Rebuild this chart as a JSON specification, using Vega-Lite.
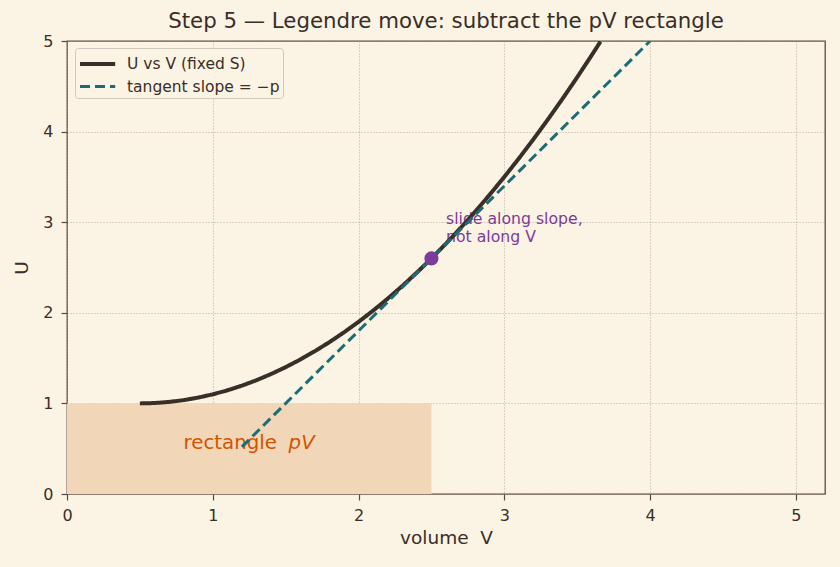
{
  "$schema": "https://vega.github.io/schema/vega-lite/v6.json",
  "width": 758,
  "height": 453,
  "autosize": {"type": "none"},
  "padding": {"left": 67, "top": 41, "right": 15, "bottom": 73},
  "background": "#fbf3e4",
  "title": {
    "text": "Step 5 — Legendre move: subtract the pV rectangle",
    "fontSize": 21.3,
    "fontWeight": "normal",
    "font": "DejaVu Sans",
    "color": "#3a2e28",
    "offset": 1
  },
  "config": {
    "font": "DejaVu Sans",
    "view": {"stroke": "#5a4a3e", "strokeWidth": 1.3, "fill": "#fbf3e4"},
    "axis": {
      "domain": false,
      "grid": true,
      "gridColor": "#a89a8a",
      "gridDash": [1, 2],
      "gridWidth": 0.8,
      "tickColor": "#5a4a3e",
      "tickSize": 6,
      "tickWidth": 1.2,
      "labelFont": "DejaVu Sans",
      "titleFont": "DejaVu Sans",
      "labelFontSize": 16,
      "labelColor": "#3a2e28",
      "labelFlush": false,
      "titleFontSize": 18.5,
      "titleFontWeight": "normal",
      "titleColor": "#3a2e28",
      "format": "d"
    },
    "legend": {"labelFont": "DejaVu Sans"}
  },
  "datasets": {
    "lines": [
      {"V": 0.5, "U": 1.0, "series": "U vs V (fixed S)"},
      {"V": 0.6, "U": 1.004, "series": "U vs V (fixed S)"},
      {"V": 0.7, "U": 1.016, "series": "U vs V (fixed S)"},
      {"V": 0.8, "U": 1.036, "series": "U vs V (fixed S)"},
      {"V": 0.9, "U": 1.064, "series": "U vs V (fixed S)"},
      {"V": 1.0, "U": 1.1, "series": "U vs V (fixed S)"},
      {"V": 1.1, "U": 1.144, "series": "U vs V (fixed S)"},
      {"V": 1.2, "U": 1.196, "series": "U vs V (fixed S)"},
      {"V": 1.3, "U": 1.256, "series": "U vs V (fixed S)"},
      {"V": 1.4, "U": 1.324, "series": "U vs V (fixed S)"},
      {"V": 1.5, "U": 1.4, "series": "U vs V (fixed S)"},
      {"V": 1.6, "U": 1.484, "series": "U vs V (fixed S)"},
      {"V": 1.7, "U": 1.576, "series": "U vs V (fixed S)"},
      {"V": 1.8, "U": 1.676, "series": "U vs V (fixed S)"},
      {"V": 1.9, "U": 1.784, "series": "U vs V (fixed S)"},
      {"V": 2.0, "U": 1.9, "series": "U vs V (fixed S)"},
      {"V": 2.1, "U": 2.024, "series": "U vs V (fixed S)"},
      {"V": 2.2, "U": 2.156, "series": "U vs V (fixed S)"},
      {"V": 2.3, "U": 2.296, "series": "U vs V (fixed S)"},
      {"V": 2.4, "U": 2.444, "series": "U vs V (fixed S)"},
      {"V": 2.5, "U": 2.6, "series": "U vs V (fixed S)"},
      {"V": 2.6, "U": 2.764, "series": "U vs V (fixed S)"},
      {"V": 2.7, "U": 2.936, "series": "U vs V (fixed S)"},
      {"V": 2.8, "U": 3.116, "series": "U vs V (fixed S)"},
      {"V": 2.9, "U": 3.304, "series": "U vs V (fixed S)"},
      {"V": 3.0, "U": 3.5, "series": "U vs V (fixed S)"},
      {"V": 3.1, "U": 3.704, "series": "U vs V (fixed S)"},
      {"V": 3.2, "U": 3.916, "series": "U vs V (fixed S)"},
      {"V": 3.3, "U": 4.136, "series": "U vs V (fixed S)"},
      {"V": 3.4, "U": 4.364, "series": "U vs V (fixed S)"},
      {"V": 3.5, "U": 4.6, "series": "U vs V (fixed S)"},
      {"V": 3.6, "U": 4.844, "series": "U vs V (fixed S)"},
      {"V": 3.66, "U": 4.994, "series": "U vs V (fixed S)"},
      {"V": 1.2, "U": 0.52, "series": "tangent slope = −p"},
      {"V": 4.0, "U": 5.0, "series": "tangent slope = −p"}
    ]
  },
  "layer": [
    {
      "data": {"values": [{"x0": 0, "x1": 2.5, "y0": 0, "y1": 1}]},
      "mark": {"type": "rect", "fill": "#f2d6b8"},
      "encoding": {
        "x": {"field": "x0", "type": "quantitative", "scale": {"domain": [0, 5.2], "nice": false}, "axis": {"values": [0, 1, 2, 3, 4, 5], "title": "volume\u00a0\u00a0V", "titlePadding": 5, "labelPadding": 7}},
        "x2": {"field": "x1"},
        "y": {"field": "y0", "type": "quantitative", "scale": {"domain": [0, 5], "nice": false}, "axis": {"values": [0, 1, 2, 3, 4, 5], "title": "U", "titlePadding": 11, "labelPadding": 8}},
        "y2": {"field": "y1"}
      }
    },
    {
      "data": {"values": [{"V": 2.6, "U": 2.98, "label": ["slide along slope,", "not along V"]}]},
      "mark": {"type": "text", "align": "left", "baseline": "alphabetic", "fontSize": 15.7, "color": "#7d3c98", "lineHeight": 18},
      "encoding": {
        "x": {"field": "V", "type": "quantitative"},
        "y": {"field": "U", "type": "quantitative"},
        "text": {"field": "label"}
      }
    },
    {
      "data": {"values": [{"V": 0.8, "U": 0.5, "label": "rectangle"}]},
      "mark": {"type": "text", "align": "left", "baseline": "alphabetic", "fontSize": 19.8, "color": "#d35400"},
      "encoding": {
        "x": {"field": "V", "type": "quantitative"},
        "y": {"field": "U", "type": "quantitative"},
        "text": {"field": "label"}
      }
    },
    {
      "data": {"values": [{"V": 1.52, "U": 0.5, "label": "pV"}]},
      "mark": {"type": "text", "align": "left", "baseline": "alphabetic", "fontSize": 19.8, "fontStyle": "italic", "color": "#d35400"},
      "encoding": {
        "x": {"field": "V", "type": "quantitative"},
        "y": {"field": "U", "type": "quantitative"},
        "text": {"field": "label"}
      }
    },
    {
      "data": {"name": "lines"},
      "mark": {"type": "line", "clip": true},
      "encoding": {
        "x": {"field": "V", "type": "quantitative"},
        "y": {"field": "U", "type": "quantitative"},
        "color": {
          "field": "series",
          "type": "nominal",
          "scale": {"domain": ["U vs V (fixed S)", "tangent slope = −p"], "range": ["#3a2e28", "#1d6c75"]},
          "legend": {
            "title": null,
            "orient": "none",
            "legendX": 8,
            "legendY": 7,
            "fillColor": "#fbf3e4",
            "strokeColor": "#d0c8bc",
            "cornerRadius": 3,
            "padding": 3,
            "labelFontSize": 15.5,
            "labelColor": "#3a2e28",
            "symbolType": "M-1,0L2.2,0",
            "symbolSize": 484,
            "symbolStrokeWidth": 3.5,
            "rowPadding": 1,
            "labelOffset": 23
          }
        },
        "strokeDash": {
          "field": "series",
          "type": "nominal",
          "scale": {"domain": ["U vs V (fixed S)", "tangent slope = −p"], "range": [[1, 0], [10, 5]]},
          "legend": null
        },
        "strokeWidth": {
          "field": "series",
          "type": "nominal",
          "scale": {"domain": ["U vs V (fixed S)", "tangent slope = −p"], "range": [4, 3]},
          "legend": null
        }
      }
    },
    {
      "data": {"values": [{"V": 2.5, "U": 2.6}]},
      "mark": {"type": "point", "filled": true, "color": "#7d3c98", "size": 200, "opacity": 1},
      "encoding": {
        "x": {"field": "V", "type": "quantitative"},
        "y": {"field": "U", "type": "quantitative"}
      }
    }
  ]
}
